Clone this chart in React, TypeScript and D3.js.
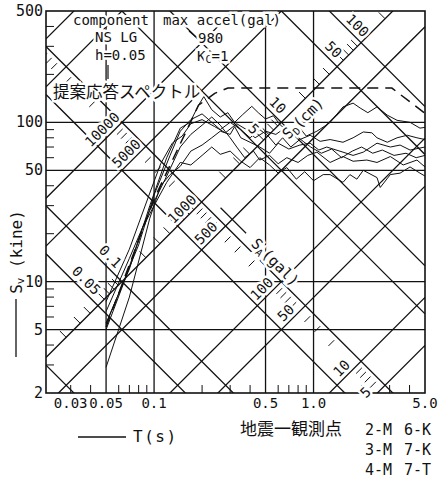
import React from 'react'
import * as d3 from 'd3'

// period T (s) and pseudo velocity Sv (kine)
const periodLabels = [0.03, 0.05, 0.1, 0.5, 1.0, 5.0]
const periodLabelText = ['0.03', '0.05', '0.1', '0.5', '1.0', '5.0']
const periodGrid = [0.05, 0.1, 0.5, 1.0]
const velocityLabels = [2, 5, 10, 50, 100, 500]
const velocityGrid = [5, 10, 50, 100]

// tripartite diagonals: Sa (gal) and Sd (cm)
const accelLines = [5, 10, 50, 100, 500, 1000, 5000, 10000, 50000, 100000]
const dispLines = [0.01, 0.05, 0.1, 0.5, 1, 5, 10, 50, 100]
const accelLabels = [10000, 5000, 1000, 500, 100, 50, 10, 5]
const dispLabels = [0.05, 0.1, 5, 10, 50, 100]
const minorSteps = [2, 3, 4, 6, 7, 8, 9]
const decades = [0.01, 0.1, 1, 10, 100, 1000, 10000]

const stationsM = ['2-M', '3-M', '4-M']
const stationsK = ['6-K', '7-K', '7-T']

// [T, Sv]
const spec2M = [[0.05, 5.5], [0.07, 12], [0.094, 30], [0.12, 60], [0.146, 92], [0.168, 100], [0.19, 128], [0.205, 145], [0.23, 120], [0.26, 108], [0.29, 115], [0.32, 100], [0.36, 112], [0.41, 126], [0.45, 115], [0.5, 105], [0.56, 110], [0.62, 96], [0.7, 88], [0.8, 95], [0.9, 82], [1.05, 88], [1.2, 96], [1.27, 100], [1.53, 125], [1.77, 132], [1.96, 123], [2.19, 115], [2.5, 125], [2.9, 111], [3.34, 103], [4.03, 100], [4.65, 92], [5.0, 93]]
const spec3M = [[0.05, 5.4], [0.08, 17], [0.1, 35], [0.126, 62], [0.146, 88], [0.17, 104], [0.2, 113], [0.225, 102], [0.26, 90], [0.3, 100], [0.35, 90], [0.4, 80], [0.46, 90], [0.52, 82], [0.58, 72], [0.64, 80], [0.72, 70], [0.82, 78], [0.952, 83], [1.1, 76], [1.27, 78], [1.53, 75], [1.77, 80], [2.05, 87], [2.32, 86], [2.5, 80], [2.9, 75], [3.34, 80], [3.87, 83], [4.45, 80], [5.0, 78]]
const spec4M = [[0.05, 2.9], [0.07, 8], [0.094, 25], [0.11, 40], [0.126, 47], [0.146, 53], [0.17, 66], [0.2, 72], [0.23, 80], [0.26, 88], [0.3, 84], [0.32, 94], [0.35, 80], [0.4, 75], [0.46, 70], [0.53, 64], [0.6, 74], [0.7, 68], [0.82, 72], [0.952, 74], [1.08, 67], [1.21, 70], [1.53, 65], [1.77, 62], [2.05, 65], [2.5, 74], [3.03, 70], [3.49, 72], [4.03, 67], [5.0, 70]]
const spec6K = [[0.05, 6.5], [0.07, 14], [0.094, 28], [0.12, 46], [0.146, 70], [0.17, 84], [0.2, 96], [0.23, 108], [0.26, 96], [0.3, 80], [0.33, 70], [0.37, 60], [0.42, 66], [0.46, 58], [0.53, 62], [0.6, 55], [0.68, 60], [0.8, 56], [0.92, 62], [1.05, 65], [1.27, 56], [1.53, 61], [1.77, 57], [2.16, 58], [2.5, 56], [3.03, 61], [3.65, 54], [4.45, 58], [5.0, 52.5]]
const spec7K = [[0.05, 5.0], [0.065, 10], [0.085, 22], [0.1, 30], [0.12, 42], [0.146, 56], [0.17, 54], [0.2, 62], [0.23, 70], [0.26, 63], [0.3, 66], [0.35, 57], [0.4, 52], [0.46, 60], [0.53, 54], [0.6, 48], [0.68, 52], [0.78, 44], [0.88, 49], [1.0, 43], [1.15, 47], [1.27, 47], [1.53, 42], [1.69, 47], [1.87, 44], [2.05, 50], [2.5, 45], [2.62, 39], [3.03, 47], [3.49, 48], [4.03, 52.5], [4.65, 48], [5.0, 46]]
const spec7T = [[0.05, 7.5], [0.07, 16], [0.094, 36], [0.11, 55], [0.13, 74], [0.15, 82], [0.17, 98], [0.2, 104], [0.24, 94], [0.28, 86], [0.33, 98], [0.38, 90], [0.43, 80], [0.5, 88], [0.58, 84], [0.66, 92], [0.76, 84], [0.86, 76], [0.96, 70], [1.12, 64], [1.3, 68], [1.5, 60], [1.75, 66], [2.0, 70], [2.35, 64], [2.7, 67], [3.2, 62], [3.8, 64], [4.4, 60], [5.0, 62]]

// proposed response spectrum (dashed)
const proposedT = [0.05, 0.1, 0.19, 0.24, 0.29, 3.1, 5.0]
const proposedSv = [5.2, 33, 128, 152, 164, 164, 114]

const mono = "'DejaVu Sans Mono', monospace"
const jp = "'Noto Sans CJK JP', sans-serif"

export default function App() {
  const width = 438
  const height = 479
  const left = 46, right = 425, top = 11, bottom = 393

  const x = d3.scaleLog().domain([0.021, 5]).range([left, right])
  const y = d3.scaleLog().domain([2, 500]).range([bottom, top])
  const line = d3.line().x(d => x(d[0])).y(d => y(d[1]))
  const twoPi = 2 * Math.PI
  const [tMin, tMax] = x.domain()

  const accelPath = a => line([[tMin, (a * tMin) / twoPi], [tMax, (a * tMax) / twoPi]])
  const dispPath = s => line([[tMin, (twoPi * s) / tMin], [tMax, (twoPi * s) / tMax]])
  // screen point where Sa = a and Sd = s
  const at = (a, s) => [x(twoPi * Math.sqrt(s / a)), y(Math.sqrt(a * s))]

  const spectra = [spec2M, spec3M, spec4M, spec6K, spec7K, spec7T]
  const proposed = proposedT.map((t, i) => [t, proposedSv[i]])

  const minorSv = []
  ;[1, 10, 100].forEach(k => minorSteps.forEach(m => { if (m * k > 2 && m * k < 500) minorSv.push(m * k) }))
  const minorT = []
  ;[0.01, 0.1, 1].forEach(k => minorSteps.forEach(m => { if (m * k > 0.021 && m * k < 5) minorT.push(m * k) }))

  const halo = { stroke: '#fff', strokeWidth: 5, paintOrder: 'stroke' }

  return (
    <svg width={width} height={height} style={{ position: 'absolute', left: 0, top: 0, background: '#fff' }}>
      <defs>
        <clipPath id="plot">
          <rect x={left} y={top} width={right - left} height={bottom - top} />
        </clipPath>
      </defs>

      <g clipPath="url(#plot)" fill="none" stroke="#111">
        {accelLines.map(a => <path key={'a' + a} d={accelPath(a)} strokeWidth={1.3} />)}
        {dispLines.map(s => <path key={'d' + s} d={dispPath(s)} strokeWidth={1.3} />)}
        {periodGrid.map(t => <line key={'t' + t} x1={x(t)} x2={x(t)} y1={top} y2={bottom} strokeWidth={1.3} />)}
        {velocityGrid.map(v => <line key={'v' + v} x1={left} x2={right} y1={y(v)} y2={y(v)} strokeWidth={1.3} />)}

        {/* minor ticks along the Sa and Sd scales */}
        {decades.map(k => minorSteps.map(m => {
          const [x1, y1] = at(m * k, 0.78)
          const [x2, y2] = at(m * k, 0.92)
          return <line key={'at' + k + m} x1={x1} y1={y1} x2={x2} y2={y2} strokeWidth={1} />
        }))}
        {decades.map(k => minorSteps.map(m => {
          const [x1, y1] = at(1000, m * k)
          const [x2, y2] = at(1200, m * k)
          return <line key={'dt' + k + m} x1={x1} y1={y1} x2={x2} y2={y2} strokeWidth={1} />
        }))}

        {spectra.map((s, i) => <path key={'s' + i} d={line(s)} strokeWidth={1} strokeLinejoin="round" />)}
        <path d={line(proposed)} strokeWidth={1.5} strokeDasharray="11 7" />

        {/* axis ticks */}
        {minorSv.map(v => <line key={'mv' + v} x1={left} x2={left + 8} y1={y(v)} y2={y(v)} strokeWidth={1} />)}
        {minorT.map(t => <line key={'mt' + t} x1={x(t)} x2={x(t)} y1={bottom} y2={bottom - 8} strokeWidth={1} />)}
      </g>

      <rect x={left} y={top} width={right - left} height={bottom - top} fill="none" stroke="#111" strokeWidth={1.6} />

      {/* diagonal scale labels */}
      <g fontFamily={mono} fontSize={14} fill="#111" textAnchor="middle" dominantBaseline="central">
        {accelLabels.map(a => {
          const [px, py] = at(a * 1.2, 0.68)
          return <text key={'al' + a} transform={`translate(${px},${py}) rotate(-45)`} style={halo}>{a}</text>
        })}
        {dispLabels.map(s => {
          const [px, py] = at(s < 1 ? 1700 : 1350, s * 1.22)
          return <text key={'dl' + s} transform={`translate(${px},${py}) rotate(45)`} style={halo}>{s}</text>
        })}
        {(() => {
          const [px, py] = at(145, 1.21)
          return (
            <text transform={`translate(${px},${py}) rotate(45)`} fontSize={15} style={halo}>
              S<tspan fontSize={10} dy={4}>A</tspan><tspan dy={-4}>(gal)</tspan>
            </text>
          )
        })()}
        {(() => {
          const [x1, y1] = at(700, 1.21)
          const [x2, y2] = at(335, 1.21)
          return <line x1={x1} y1={y1} x2={x2} y2={y2} stroke="#111" strokeWidth={1.2} />
        })()}
        {(() => {
          const [px, py] = at(775, 14.5)
          return (
            <text transform={`translate(${px},${py}) rotate(-45)`} fontSize={15} style={halo}>
              S<tspan fontSize={10} dy={4}>D</tspan><tspan dy={-4}>(cm)</tspan>
            </text>
          )
        })()}
      </g>

      {/* legend block at top */}
      <g fontFamily={mono} fontSize={14} fill="#111" style={halo}>
        <text x={73} y={25}>component</text>
        <text x={95} y={42}>NS LG</text>
        <text x={95} y={60}>h=0.05</text>
        <text x={163} y={25}>max accel(gal)</text>
        <text x={198} y={43}>980</text>
        <text x={197} y={61}>K<tspan fontSize={10} dy={2}>C</tspan><tspan dy={-2}>=1</tspan></text>
        <text x={53} y={98} fontFamily={jp} fontSize={16.5}>提案応答スペクトル</text>
      </g>
      <line x1={108} x2={108} y1={65} y2={79} stroke="#111" strokeWidth={1.2} />
      <line x1={189} y1={31} x2={196} y2={37} stroke="#111" strokeWidth={1.2} />

      {/* axes labels */}
      <g fontFamily={mono} fontSize={15} fill="#111">
        {velocityLabels.map(v => (
          <text key={'yl' + v} x={43} y={y(v)} textAnchor="end" dominantBaseline="central">{v}</text>
        ))}
        {periodLabels.map((t, i) => (
          <text key={'xl' + t} x={x(t)} y={408} fontSize={14} textAnchor="middle">{periodLabelText[i]}</text>
        ))}
        <text transform="translate(16,252) rotate(-90)" textAnchor="middle" dominantBaseline="central" fontSize={16}>
          S<tspan fontSize={11} dy={4}>v</tspan><tspan dy={-4}> (kine)</tspan>
        </text>
        <line x1={16} x2={16} y1={299} y2={357} stroke="#111" strokeWidth={1.3} />
        <line x1={78} x2={126} y1={437} y2={437} stroke="#111" strokeWidth={1.3} />
        <text x={133} y={442} fontSize={16} letterSpacing={1.5}>T(s)</text>
        <text x={240} y={435} fontFamily={jp} fontSize={17}>地震一観測点</text>
        {stationsM.map((s, i) => <text key={s} x={365} y={435 + i * 20}>{s}</text>)}
        {stationsK.map((s, i) => <text key={s} x={404} y={435 + i * 20}>{s}</text>)}
      </g>
    </svg>
  )
}
